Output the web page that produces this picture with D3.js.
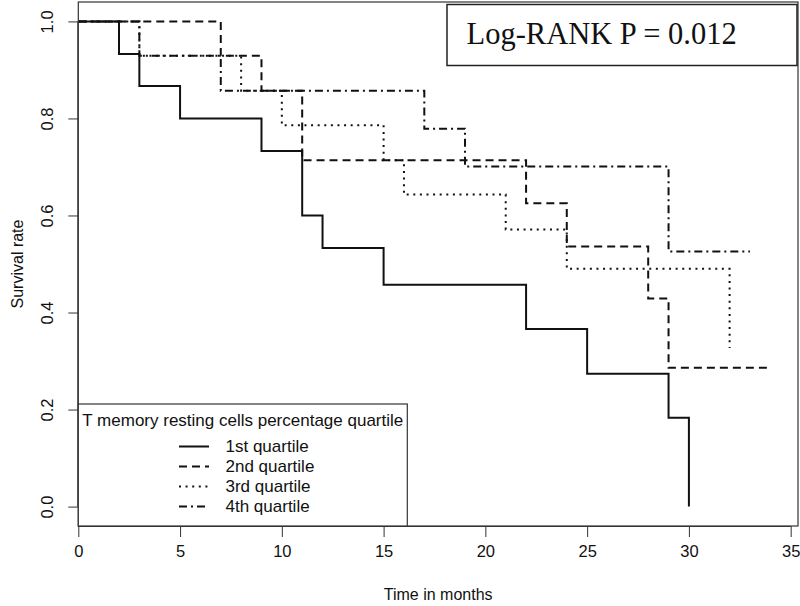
<!DOCTYPE html>
<html>
<head>
<meta charset="utf-8">
<script src="https://cdn.jsdelivr.net/npm/d3@7"></script>
<style>
  html, body { margin: 0; padding: 0; background: #fff; }
  svg { display: block; }
  text { fill: #111; }
</style>
</head>
<body>
<svg id="chart" width="800" height="606"></svg>
<script>
// ---- data (Kaplan-Meier step values) ----
const seriesNames = ["1st quartile", "2nd quartile", "3rd quartile", "4th quartile"];
const times1 = [0, 2, 3, 5, 9, 11, 12, 15, 22, 25, 29, 30];
const surv1  = [1, 0.933, 0.867, 0.8, 0.733, 0.6, 0.533, 0.457, 0.366, 0.274, 0.183, 0];
const end1 = 30;
const times2 = [0, 7, 9, 11, 22, 24, 28, 29];
const surv2  = [1, 0.929, 0.857, 0.714, 0.625, 0.536, 0.429, 0.286];
const end2 = 34;
const times3 = [0, 3, 8, 10, 15, 16, 21, 24, 32];
const surv3  = [1, 0.929, 0.857, 0.786, 0.714, 0.643, 0.571, 0.490, 0.327];
const end3 = 32;
const times4 = [0, 3, 7, 17, 19, 29];
const surv4  = [1, 0.929, 0.857, 0.779, 0.701, 0.526];
const end4 = 33;
const xTicks = [0, 5, 10, 15, 20, 25, 30, 35];
const yTicks = [0.0, 0.2, 0.4, 0.6, 0.8, 1.0];
const legendTitle = "T memory resting cells percentage quartile";
const pText = "Log-RANK P = 0.012";
const xTitle = "Time in months";
const yTitle = "Survival rate";

const SANS = "'Liberation Sans', Arial, Helvetica, sans-serif";
const SERIF = "'Liberation Serif', 'Times New Roman', serif";

// ---- layout ----
const svg = d3.select("#chart");
const box = { left: 78.3, right: 798, top: 2, bottom: 526 };
const x = d3.scaleLinear().domain([0, 35.36]).range([box.left, box.right]);
const y = d3.scaleLinear().domain([-0.04, 1.04]).range([box.bottom, box.top]);

const dashes = [null, "8,5", "2,4.6", "8,4,2,4"];
const series = [
  { t: times1, s: surv1, end: end1 },
  { t: times2, s: surv2, end: end2 },
  { t: times3, s: surv3, end: end3 },
  { t: times4, s: surv4, end: end4 }
];

const line = d3.line().x(d => x(d[0])).y(d => y(d[1])).curve(d3.curveStepAfter);

series.forEach((sr, i) => {
  const pts = sr.t.map((t, j) => [t, sr.s[j]]);
  pts.push([sr.end, sr.s[sr.s.length - 1]]);
  svg.append("path")
    .attr("d", line(pts))
    .attr("fill", "none")
    .attr("stroke", "#111")
    .attr("stroke-width", 2)
    .attr("stroke-dasharray", dashes[i]);
});

// plot box
svg.append("rect")
  .attr("x", box.left).attr("y", box.top)
  .attr("width", box.right - box.left).attr("height", box.bottom - box.top)
  .attr("fill", "none").attr("stroke", "#333").attr("stroke-width", 1.2);

// x axis
const xAxis = d3.axisBottom(x).tickValues(xTicks).tickSize(11).tickPadding(8)
  .tickFormat(d3.format("d"));
const gx = svg.append("g").attr("transform", `translate(0,${box.bottom})`).call(xAxis);
gx.select(".domain").attr("d", `M${x(0)},0.5H${x(35)}`).attr("stroke", "#333");
gx.selectAll(".tick line").attr("stroke", "#333");
gx.selectAll("text").attr("font-size", 16.5).style("fill", "#111")
  .style("font-family", SANS);

// y axis
const yAxis = d3.axisLeft(y).tickValues(yTicks).tickSize(10).tickPadding(0)
  .tickFormat(d3.format(".1f"));
const gy = svg.append("g").attr("transform", `translate(${box.left},0)`).call(yAxis);
gy.select(".domain").attr("d", `M-0.5,${y(0)}V${y(1)}`).attr("stroke", "#333");
gy.selectAll(".tick line").attr("stroke", "#333");
gy.selectAll("text")
  .attr("font-size", 16.5).style("fill", "#111")
  .style("font-family", SANS)
  .attr("text-anchor", "middle").attr("dy", null)
  .attr("x", null)
  .attr("transform", "translate(-31,0) rotate(-90)")
  .attr("dominant-baseline", "central");

// axis titles
svg.append("text").attr("x", (box.left + box.right) / 2).attr("y", 594)
  .attr("text-anchor", "middle").attr("dominant-baseline", "central")
  .style("font-family", SANS).attr("font-size", 16).text(xTitle);
svg.append("text")
  .attr("transform", `translate(17,${(box.top + box.bottom) / 2}) rotate(-90)`)
  .attr("text-anchor", "middle").attr("dominant-baseline", "central")
  .style("font-family", SANS).attr("font-size", 16).text(yTitle);

// legend
const lg = { x: box.left, y: 404, w: 329, h: box.bottom - 404 };
svg.append("rect").attr("x", lg.x).attr("y", lg.y).attr("width", lg.w).attr("height", lg.h)
  .attr("fill", "#fff").attr("stroke", "#333").attr("stroke-width", 1.2);
svg.append("text").attr("x", lg.x + lg.w / 2).attr("y", 420)
  .attr("text-anchor", "middle").attr("dominant-baseline", "central")
  .style("font-family", SANS).attr("font-size", 17).text(legendTitle);
const rowY = d3.scalePoint().domain(seriesNames).range([446.5, 506.5]);
seriesNames.forEach((nm, i) => {
  svg.append("line").attr("x1", 179).attr("x2", 209)
    .attr("y1", rowY(nm)).attr("y2", rowY(nm))
    .attr("stroke", "#111").attr("stroke-width", 2)
    .attr("stroke-dasharray", dashes[i]);
  svg.append("text").attr("x", 225.5).attr("y", rowY(nm))
    .attr("dominant-baseline", "central")
    .style("font-family", SANS).attr("font-size", 17).text(nm);
});

// log-rank box
svg.append("rect").attr("x", 447).attr("y", 4.5).attr("width", 350).attr("height", 61)
  .attr("fill", "#fff").attr("stroke", "#222").attr("stroke-width", 1.5);
svg.append("text").attr("x", 466.5).attr("y", 43.5)
  .style("font-family", SERIF)
  .attr("font-size", 30.5).text(pText);
</script>
</body>
</html>
